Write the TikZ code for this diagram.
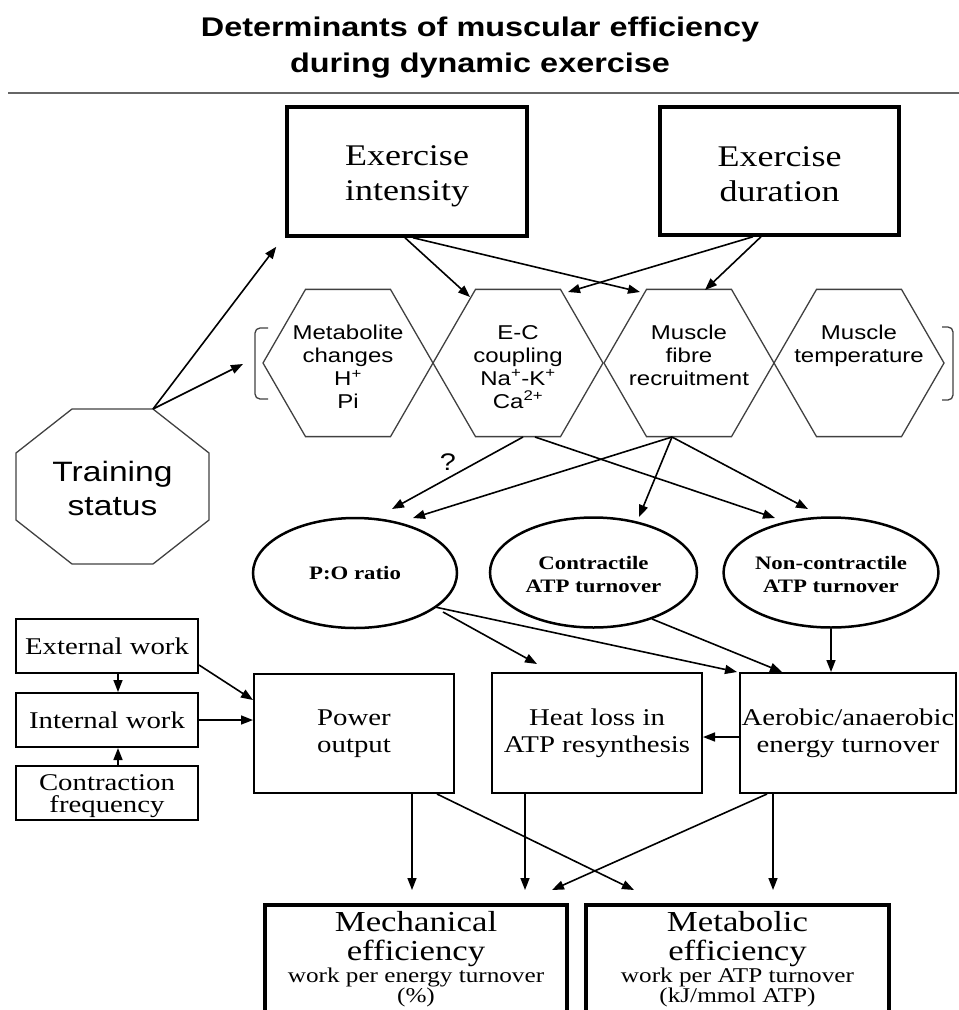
\documentclass[tikz,border=0pt]{standalone}
\usepackage{fontspec}
\setmainfont{Liberation Serif}[FakeStretch=1.2]
\newfontfamily\arialf{Liberation Sans}[FakeStretch=1.2]
\usetikzlibrary{shapes.geometric,arrows.meta,calc}
\begin{document}
\begin{tikzpicture}[x=1pt,y=-1pt,
  arr/.style={-{Triangle[length=12pt,width=9pt]}, line width=1.6pt},
  tbox/.style={draw, line width=3.5pt, inner sep=0pt, align=center, font=\fontsize{30}{35}\selectfont},
  sbox/.style={draw, line width=2pt, inner sep=0pt, align=center, font=\fontsize{24}{27}\selectfont},
  hexa/.style={draw=black!75, line width=1.3pt, regular polygon, regular polygon sides=6, minimum size=170pt, inner sep=0pt},
  htext/.style={font=\arialf\fontsize{20}{23}\selectfont, align=center, inner sep=0pt, anchor=north},
  ell/.style={draw, ellipse, line width=2.5pt, inner sep=0pt, align=center, font=\bfseries\fontsize{19}{23}\selectfont},
  gline/.style={draw=black!75, line width=1.3pt},
  btext/.style={align=center, inner sep=0pt, anchor=north, font=\fontsize{29}{30}\selectfont}
]
\useasboundingbox (0,0) rectangle (959,1010);

% title
\node[font=\arialf\bfseries\fontsize{27}{36}\selectfont, align=center, inner sep=0pt] (title) at (480,48) {Determinants of muscular efficiency\\during dynamic exercise};
\draw[black!60, line width=2.5pt] (8,93) -- (959,93);

% top boxes
\node[tbox, minimum width=240pt, minimum height=129pt] (int) at (407,171.5) {\rule{0pt}{29pt}Exercise\\intensity};
\node[tbox, minimum width=239pt, minimum height=128pt] (dur) at (779.5,171) {\rule{0pt}{27pt}Exercise\\duration};

% hexagons
\node[hexa] (h1) at (348,363) {};
\node[hexa] (h2) at (518,363) {};
\node[hexa] (h3) at (689,363) {};
\node[hexa] (h4) at (859,363) {};
\node[htext] (t1) at (348,325) {Metabolite\\changes\\H\textsuperscript{+}\\Pi};
\node[htext] (t2) at (518,325) {E-C\\coupling\\Na\textsuperscript{+}-K\textsuperscript{+}\\Ca\textsuperscript{2+}};
\node[htext] (t3) at (689,325) {Muscle\\fibre\\recruitment};
\node[htext] (t4) at (859,325) {Muscle\\temperature};

% brackets
\draw[gline, rounded corners=5pt] (268,328) -- (255,328) -- (255,399) -- (268,399);
\draw[gline, rounded corners=5pt] (942,327) -- (953,327) -- (953,400) -- (942,400);

% training status octagon
\coordinate (o1) at (72,409);
\coordinate (ts) at (153,409);
\coordinate (o3) at (209,453);
\coordinate (o4) at (209,520);
\coordinate (o5) at (153,564);
\coordinate (o6) at (72,564);
\coordinate (o7) at (16,520);
\coordinate (o8) at (16,453);
\draw[gline] (o1) -- (ts) -- (o3) -- (o4) -- (o5) -- (o6) -- (o7) -- (o8) -- cycle;
\node[font=\arialf\fontsize{28}{34}\selectfont, align=center, inner sep=0pt] (train) at (112.5,488) {Training\\status};

% ellipses
\node[ell, minimum width=204pt, minimum height=110pt] (po) at (355,573) {P:O ratio};
\node[ell, minimum width=207pt, minimum height=110pt] (con) at (593.5,572.5) {\rule{0pt}{17pt}Contractile\\ATP turnover};
\node[ell, minimum width=206pt, minimum height=110pt] (non) at (831,572.5) {\rule{0pt}{17pt}Non-contractile\\ATP turnover};

% left boxes
\node[sbox, minimum width=182pt, minimum height=54pt] (ext) at (107,646) {External work};
\node[sbox, minimum width=182pt, minimum height=54pt] (intw) at (107,720) {Internal work};
\node[sbox, minimum width=182pt, minimum height=54pt] (cf) at (107,793) {};
\node[align=center, inner sep=0pt, font=\fontsize{24}{22}\selectfont] (cfT) at (107,796) {Contraction\\frequency};

% middle boxes
\node[sbox, minimum width=200pt, minimum height=119pt] (pow) at (354,733.5) {Power\\output};
\node[sbox, minimum width=210pt, minimum height=120pt] (heat) at (597,733) {Heat loss in\\ATP resynthesis};
\node[sbox, minimum width=216pt, minimum height=120pt] (aer) at (848,733) {Aerobic/anaerobic\\energy turnover};

% bottom boxes
\node[draw, line width=3.5pt, minimum width=302pt, minimum height=125pt, anchor=north, inner sep=0pt] (mech) at (416,903) {};
\node[draw, line width=3.5pt, minimum width=303pt, minimum height=125pt, anchor=north, inner sep=0pt] (metab) at (737.5,903) {};
\node[btext] (mechT) at (mech.north) [yshift=-8pt] {Mechanical\\[-1pt]efficiency\\[-8pt]{\fontsize{21}{23}\selectfont work per energy turnover}\\[-10pt]{\fontsize{21}{23}\selectfont (\%)}};
\node[btext] (metabT) at (metab.north) [yshift=-8pt] {Metabolic\\[-1pt]efficiency\\[-8pt]{\fontsize{21}{23}\selectfont work per ATP turnover}\\[-10pt]{\fontsize{21}{23}\selectfont (kJ/mmol ATP)}};

% arrows: training status
\draw[arr] (ts) -- ($(int.south west)+(-9,9)$);
\draw[arr] (ts) -- ($(h1.center)+(-105,1)$);

% arrows: top boxes to hexagons
\draw[arr] ($(int.south)+(-2,0)$) -- ($(h2.center)+(-48,-66)$);
\draw[arr] ($(int.south)+(6,0)$) -- ($(h3.center)+(-49,-71)$);
\draw[arr] ($(dur.south)+(-26.5,0)$) -- ($(h2.center)+(50,-71)$);
\draw[arr] ($(dur.south)+(-18.5,0)$) -- ($(h3.center)+(16,-73)$);

% arrows: hexagons to ellipses
\draw[arr] ($(h2.center)+(5,74)$) -- ($(po.center)+(37,-64)$);
\node[font=\arialf\fontsize{24}{24}\selectfont, inner sep=0pt] (q) at (448,462) {?};
\draw[arr] ($(h2.center)+(17,74)$) -- ($(non.center)+(-56,-54.5)$);
\draw[arr] ($(h3.center)+(-17,74)$) -- ($(con.center)+(45.5,-55.5)$);
\draw[arr] ($(h3.center)+(-17,74)$) -- ($(non.center)+(-23,-63.5)$);
\draw[arr] ($(h3.center)+(-17,74)$) -- ($(po.center)+(58,-55)$);

% arrows: ellipses to boxes
\draw[arr] ($(po.center)+(88,39)$) -- ($(heat.north)+(-60,-8)$);
\draw[arr] ($(po.center)+(80,34)$) -- ($(aer.north west)+(-2,0)$);
\draw[arr] ($(con.center)+(58.5,46.5)$) -- ($(aer.north west)+(43,0)$);
\draw[arr] (non.south) -- ($(aer.north)+(-17,0)$);
\draw[arr] ($(aer.west)+(0,4)$) -- ($(heat.east)+(0,4)$);

% arrows: left boxes
\draw[arr] ($(ext.south)+(11,0)$) -- ($(intw.north)+(11,0)$);
\draw[arr] ($(cf.north)+(11,0)$) -- ($(intw.south)+(11,0)$);
\draw[arr] ($(ext.east)+(0,19)$) -- ($(pow.west)+(0,-33.5)$);
\draw[arr] (intw.east) -- ($(pow.west)+(0,-13.5)$);

% arrows: to bottom boxes
\draw[arr] ($(pow.south)+(58,0)$) -- ($(mech.north)+(-4,-13)$);
\draw[arr] ($(heat.south)+(-72,0)$) -- ($(mech.north)+(109,-13)$);
\draw[arr] ($(aer.south)+(-81,0)$) -- ($(mech.north)+(136,-13)$);
\draw[arr] ($(pow.south)+(83,0)$) -- ($(metab.north)+(-103.5,-13)$);
\draw[arr] ($(aer.south)+(-75,0)$) -- ($(metab.north)+(35.5,-13)$);
\end{tikzpicture}
\end{document}
